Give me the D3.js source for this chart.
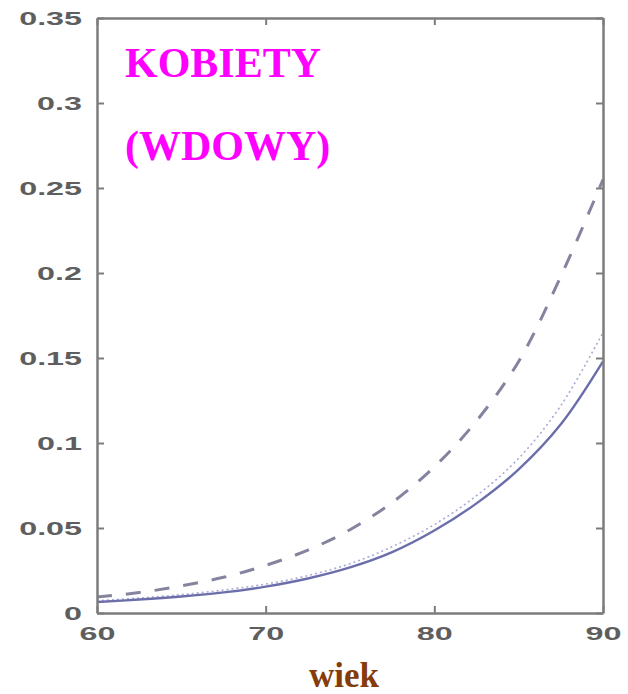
<!DOCTYPE html>
<html>
<head>
<meta charset="utf-8">
<script src="https://cdn.jsdelivr.net/npm/d3@7"></script>
<style>
  html, body { margin: 0; padding: 0; background: #fff; }
  svg { display: block; }
</style>
</head>
<body>
<svg id="chart" width="628" height="694"></svg>
<script>
// Age grid (years) shared by the three curves
const ages = [60, 62.5, 65, 67.5, 70, 72.5, 75, 77.5, 80, 82.5, 85, 87.5, 90];

// Probability curves for women (widow's pension)
const solidSeries  = [0.0065, 0.0079, 0.0097, 0.0121, 0.0155, 0.0203, 0.0268, 0.0358, 0.0485, 0.0645, 0.0845, 0.111, 0.148];
const dashedSeries = [0.0094, 0.012, 0.016, 0.021, 0.028, 0.037, 0.049, 0.065, 0.086, 0.113, 0.148, 0.198, 0.255];
const dottedSeries = [0.0072, 0.0088, 0.0108, 0.0135, 0.017, 0.022, 0.029, 0.039, 0.052, 0.069, 0.091, 0.122, 0.165];

// Axis ticks
const xTicks = [60, 70, 80, 90];
const yTicks = [0, 0.05, 0.1, 0.15, 0.2, 0.25, 0.3, 0.35];
const yTickLabels = ["0", "0.05", "0.1", "0.15", "0.2", "0.25", "0.3", "0.35"];

const titleLines = ["KOBIETY", "(WDOWY)"];
const xTitle = "wiek";

const svg = d3.select("#chart");
const frame = { left: 97, right: 603, top: 18, bottom: 613 };

const x = d3.scaleLinear().domain([60, 90]).range([frame.left, frame.right]);
const y = d3.scaleLinear().domain([0, 0.35]).range([frame.bottom, frame.top]);

const stretch = 1.7;         // wide tick-label glyphs
const axisColor = "#7c7c7c";
const labelColor = "#5e5e5e";

// Curves
const line = d3.line().x(d => x(d[0])).y(d => y(d[1])).curve(d3.curveCatmullRom.alpha(0.5));
const plot = svg.append("g");

plot.append("path")
  .datum(ages.map((a, i) => [a, dottedSeries[i]]))
  .attr("d", line).attr("fill", "none")
  .attr("stroke", "#a9a9d6").attr("stroke-width", 1.6)
  .attr("stroke-dasharray", "2,3");

plot.append("path")
  .datum(ages.map((a, i) => [a, dashedSeries[i]]))
  .attr("d", line).attr("fill", "none")
  .attr("stroke", "#84849f").attr("stroke-width", 3)
  .attr("stroke-dasharray", "15,14");

plot.append("path")
  .datum(ages.map((a, i) => [a, solidSeries[i]]))
  .attr("d", line).attr("fill", "none")
  .attr("stroke", "#6c6eab").attr("stroke-width", 2.4);

// Box axes with inward ticks
function styleAxis(g) {
  g.select(".domain").attr("stroke", axisColor).attr("stroke-width", 2.5);
  g.selectAll(".tick line").attr("stroke", axisColor).attr("stroke-width", 2);
}

const gLeft = svg.append("g").attr("transform", `translate(${frame.left},0)`)
  .call(d3.axisLeft(y).tickValues(yTicks).tickFormat((d, i) => yTickLabels[i])
    .tickSizeInner(-7).tickSizeOuter(0).tickPadding(15));
styleAxis(gLeft);
gLeft.selectAll(".tick text")
  .attr("x", -15 / stretch)
  .attr("transform", `scale(${stretch},1)`);

const gRight = svg.append("g").attr("transform", `translate(${frame.right},0)`)
  .call(d3.axisRight(y).tickValues(yTicks).tickFormat("").tickSizeInner(-7).tickSizeOuter(0));
styleAxis(gRight);

const gBottom = svg.append("g").attr("transform", `translate(0,${frame.bottom})`)
  .call(d3.axisBottom(x).tickValues(xTicks).tickFormat(d3.format("d"))
    .tickSizeInner(-7).tickSizeOuter(0).tickPadding(14));
styleAxis(gBottom);
gBottom.selectAll(".tick text").attr("transform", `scale(${stretch},1)`);

const gTop = svg.append("g").attr("transform", `translate(0,${frame.top})`)
  .call(d3.axisTop(x).tickValues(xTicks).tickFormat("").tickSizeInner(-7).tickSizeOuter(0));
styleAxis(gTop);

svg.selectAll(".tick text")
  .attr("fill", labelColor)
  .attr("font-family", "'Liberation Sans', Arial, sans-serif")
  .attr("font-weight", "bold")
  .attr("font-size", 19);

// Title in the upper-left corner of the plot
svg.append("g").selectAll("text").data(titleLines).join("text")
  .attr("x", 125)
  .attr("y", (d, i) => 77 + i * 83)
  .attr("fill", "#ff00ff")
  .attr("font-family", "'Liberation Serif', 'Times New Roman', serif")
  .attr("font-weight", "bold")
  .attr("font-size", 42)
  .text(d => d);

// X axis title
svg.append("text")
  .attr("x", 344).attr("y", 687)
  .attr("text-anchor", "middle")
  .attr("fill", "#843c0b")
  .attr("font-family", "'Liberation Serif', 'Times New Roman', serif")
  .attr("font-weight", "bold")
  .attr("font-size", 35)
  .text(xTitle);
</script>
</body>
</html>
